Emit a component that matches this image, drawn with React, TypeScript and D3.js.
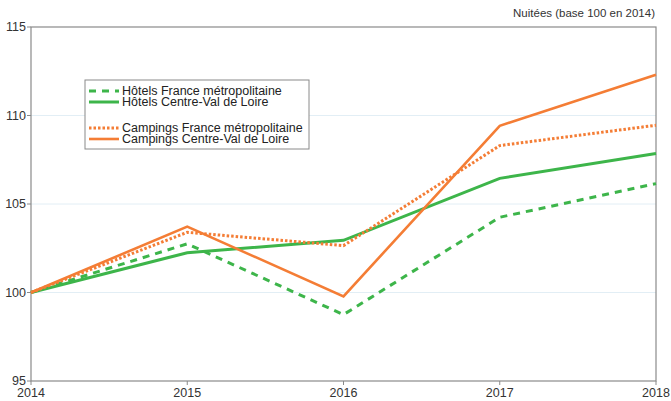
import React from "react";
import * as d3 from "d3";

const years = [2014, 2015, 2016, 2017, 2018];
const hotelsFrance = [100, 102.75, 98.75, 104.25, 106.15];
const hotelsCVL = [100, 102.25, 102.95, 106.45, 107.85];
const campingsFrance = [100, 103.4, 102.65, 108.3, 109.45];
const campingsCVL = [100, 103.72, 99.78, 109.42, 112.3];
const yTicks = [95, 100, 105, 110, 115];

const GREEN = "#3db54a";
const ORANGE = "#f47d35";

const series = [
  { name: "Hôtels France métropolitaine", values: hotelsFrance, color: GREEN, dash: "7,6", width: 3 },
  { name: "Hôtels Centre-Val de Loire", values: hotelsCVL, color: GREEN, dash: null, width: 3 },
  { name: "Campings France métropolitaine", values: campingsFrance, color: ORANGE, dash: "2.5,2", width: 3 },
  { name: "Campings Centre-Val de Loire", values: campingsCVL, color: ORANGE, dash: null, width: 2.6 },
];

export default function App() {
  const W = 671, H = 401;
  const left = 31, right = 656, top = 27, bottom = 381;
  const x = d3.scaleLinear().domain([2014, 2018]).range([left, right]);
  const y = d3.scaleLinear().domain([95, 115]).range([bottom, top]);
  const line = d3.line<number>().x((_, i) => x(years[i])).y((d) => y(d));
  const font = "'Liberation Sans', Arial, sans-serif";
  const legendRows = [91, 102, 128, 139];

  return (
    <svg width={W} height={H} style={{ position: "absolute", left: 0, top: 0, fontFamily: font }}>
      <rect width={W} height={H} fill="#fff" />
      {yTicks.slice(1, -1).map((t) => (
        <line key={t} x1={left} x2={right} y1={y(t)} y2={y(t)} stroke="#e2eef5" strokeWidth={1} />
      ))}
      <rect x={left} y={top} width={right - left} height={bottom - top} fill="none" stroke="#8a8a8a" strokeWidth={1.2} />
      {yTicks.map((t) => (
        <g key={t}>
          <line x1={left - 4} x2={left} y1={y(t)} y2={y(t)} stroke="#8a8a8a" />
          <text x={left - 5} y={y(t)} dy="0.35em" textAnchor="end" fontSize={12.5} fill="#333">{t}</text>
        </g>
      ))}
      {years.map((yr) => (
        <g key={yr}>
          <line x1={x(yr)} x2={x(yr)} y1={bottom} y2={bottom + 4} stroke="#8a8a8a" />
          <text x={x(yr)} y={bottom + 16} textAnchor="middle" fontSize={12.5} fill="#333">{yr}</text>
        </g>
      ))}
      <text x={655} y={17} textAnchor="end" fontSize={11.5} fill="#333">Nuitées (base 100 en 2014)</text>
      {series.map((s) => (
        <path key={s.name} d={line(s.values) || ""} fill="none" stroke={s.color} strokeWidth={s.width}
          strokeDasharray={s.dash || undefined} />
      ))}
      <rect x={85} y={80} width={224} height={69} fill="#fff" stroke="#8a8a8a" strokeWidth={1} />
      {series.map((s, i) => (
        <g key={s.name}>
          <line x1={89} x2={119} y1={legendRows[i]} y2={legendRows[i]} stroke={s.color} strokeWidth={s.width}
            strokeDasharray={s.dash || undefined} />
          <text x={122} y={legendRows[i]} dy="0.35em" fontSize={12.5} fill="#222">{s.name}</text>
        </g>
      ))}
    </svg>
  );
}
